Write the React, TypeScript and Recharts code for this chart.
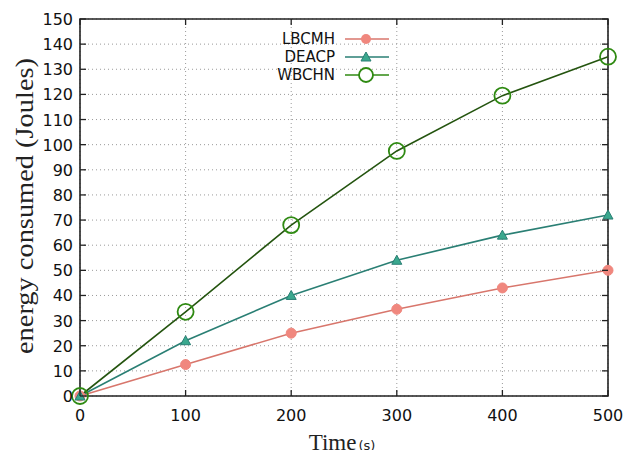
import { LineChart, Line, XAxis, YAxis, CartesianGrid, Legend, ReferenceArea } from "recharts";

const times = [0, 100, 200, 300, 400, 500];
const lbcmh = [0, 12.5, 25, 34.5, 43, 50];
const deacp = [0, 22, 40, 54, 64, 72];
const wbchn = [0, 33.5, 68, 97.5, 119.5, 135];
const xTicks = [0, 100, 200, 300, 400, 500];
const yTicks = [0, 10, 20, 30, 40, 50, 60, 70, 80, 90, 100, 110, 120, 130, 140, 150];

const data = times.map((t, i) => ({ time: t, LBCMH: lbcmh[i], DEACP: deacp[i], WBCHN: wbchn[i] }));

// plot box in pixels (chart is 638x458 at page origin)
const LEFT = 80;
const RIGHT = 608;
const TOP = 19;
const BOTTOM = 396;

const SANS = "DejaVu Sans, sans-serif";
const SERIF = "Liberation Serif, Times New Roman, serif";

const C_LB = "#d8766c";
const C_LB_DOT = "#f0877e";
const C_DE = "#2a7f74";
const C_DE_DOT = "#3aa88e";
const C_WB = "#24540f";
const C_WB_DOT = "#2f8a12";

function XTick(props: any) {
  const x = props.payload.coordinate;
  return (
    <g>
      <line x1={x} y1={BOTTOM} x2={x} y2={BOTTOM - 6} stroke="#222" strokeWidth={1.3} />
      <line x1={x} y1={TOP} x2={x} y2={TOP + 6} stroke="#222" strokeWidth={1.3} />
      <text x={x} y={421} textAnchor="middle" fontFamily={SANS} fontSize={16} fill="#111">
        {props.payload.value}
      </text>
    </g>
  );
}

function YTick(props: any) {
  const y = props.payload.coordinate;
  return (
    <g>
      <line x1={LEFT} y1={y} x2={LEFT + 6} y2={y} stroke="#222" strokeWidth={1.3} />
      <line x1={RIGHT} y1={y} x2={RIGHT - 6} y2={y} stroke="#222" strokeWidth={1.3} />
      <text x={73} y={y + 6} textAnchor="end" fontFamily={SANS} fontSize={16} fill="#111">
        {props.payload.value}
      </text>
    </g>
  );
}

function XLabel(props: any) {
  const vb = props.viewBox;
  const cx = vb.x + vb.width / 2 - 2;
  return (
    <text x={cx} y={450} textAnchor="middle" fill="#222">
      <tspan fontFamily={SERIF} fontSize={23}>Time</tspan>
      <tspan fontFamily={SANS} fontSize={13} dx={2}>(s)</tspan>
    </text>
  );
}

function YLabel() {
  const cx = 24;
  const cy = 206;
  return (
    <text
      x={cx}
      y={cy}
      transform={`rotate(-90 ${cx} ${cy})`}
      textAnchor="middle"
      dominantBaseline="central"
      fontFamily={SERIF}
      fontSize={26}
      textLength={296}
      lengthAdjust="spacingAndGlyphs"
      fill="#222"
    >
      energy consumed (Joules)
    </text>
  );
}

function circleDot(fill: string) {
  return (p: any) => <circle key={"c" + p.index} cx={p.cx} cy={p.cy} r={5} fill={fill} stroke={fill} />;
}

function triDot(p: any) {
  const { cx, cy } = p;
  return (
    <polygon
      key={"t" + p.index}
      points={`${cx},${cy - 5} ${cx - 5},${cy + 4} ${cx + 5},${cy + 4}`}
      fill={C_DE_DOT}
      stroke={C_DE}
      strokeWidth={1}
    />
  );
}

function ringDot(p: any) {
  return <circle key={"r" + p.index} cx={p.cx} cy={p.cy} r={8} fill="none" stroke={C_WB_DOT} strokeWidth={1.8} />;
}

const legendRows = [
  { name: "LBCMH", line: C_LB, kind: "circle" },
  { name: "DEACP", line: C_DE, kind: "tri" },
  { name: "WBCHN", line: C_WB_DOT, kind: "ring" },
];

function LegendBox() {
  return (
    <div style={{ fontFamily: SANS, fontSize: 15, color: "#111" }}>
      {legendRows.map((r) => (
        <div key={r.name} style={{ display: "flex", alignItems: "center", height: 18 }}>
          <span style={{ width: 95, textAlign: "right", display: "inline-block" }}>{r.name}</span>
          <svg width={44} height={18} style={{ marginLeft: 10 }}>
            <line x1={0} y1={9} x2={44} y2={9} stroke={r.line} strokeWidth={1.6} />
            {r.kind === "circle" && <circle cx={21} cy={9} r={5} fill={C_LB_DOT} />}
            {r.kind === "tri" && <polygon points="21,4 16,13 26,13" fill={C_DE_DOT} stroke={C_DE} />}
            {r.kind === "ring" && <circle cx={21} cy={9} r={7} fill="white" stroke={C_WB_DOT} strokeWidth={1.8} />}
          </svg>
        </div>
      ))}
    </div>
  );
}

export default function App() {
  return (
    <div style={{ margin: -8, width: 638, height: 458, background: "#fff" }}>
      <LineChart width={638} height={458} data={data} margin={{ top: TOP, right: 638 - RIGHT, left: 0, bottom: 0 }}>
        <CartesianGrid stroke="#9a9a9a" strokeDasharray="1 3" />
        <XAxis
          dataKey="time"
          type="number"
          domain={[0, 500]}
          ticks={xTicks}
          interval={0}
          axisLine={false}
          tickLine={false}
          height={458 - BOTTOM}
          tick={<XTick />}
          label={<XLabel />}
        />
        <YAxis
          type="number"
          domain={[0, 150]}
          ticks={yTicks}
          interval={0}
          axisLine={false}
          tickLine={false}
          width={LEFT}
          tick={<YTick />}
          label={<YLabel />}
        />
        <ReferenceArea x1={0} x2={500} y1={0} y2={150} fill="none" stroke="#222" strokeWidth={1.6} ifOverflow="visible" />
        <Legend
          layout="vertical"
          align="center"
          verticalAlign="middle"
          content={<LegendBox />}
          wrapperStyle={{ position: "absolute", left: 240, top: 30, width: 170, height: 54 }}
        />
        <Line type="linear" dataKey="LBCMH" stroke={C_LB} strokeWidth={1.6} dot={circleDot(C_LB_DOT)} isAnimationActive={false} />
        <Line type="linear" dataKey="DEACP" stroke={C_DE} strokeWidth={1.6} dot={triDot} isAnimationActive={false} />
        <Line type="linear" dataKey="WBCHN" stroke={C_WB} strokeWidth={1.6} dot={ringDot} isAnimationActive={false} />
      </LineChart>
    </div>
  );
}
